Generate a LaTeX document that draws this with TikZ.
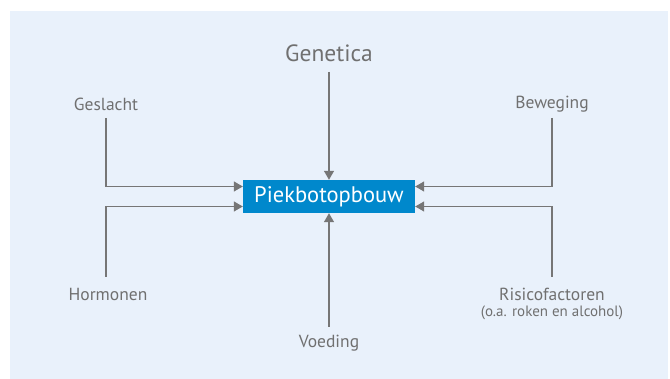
\documentclass[tikz,border=0pt]{standalone}
\usepackage{fontspec}
\setmainfont{PT Sans}
\usetikzlibrary{arrows.meta}
\definecolor{bgblue}{RGB}{233,241,251}
\definecolor{boxblue}{RGB}{0,136,204}
\definecolor{txtgray}{RGB}{112,112,112}
\definecolor{lngray}{RGB}{118,118,118}
\begin{document}
\begin{tikzpicture}[x=1pt,y=-1pt,
  lbl/.style={text=txtgray,font=\fontsize{17.5}{19}\selectfont,inner sep=0pt,anchor=center},
  conn/.style={draw=lngray,line width=1.2pt,-{Triangle[length=9pt,width=10pt]}}]
\useasboundingbox (0,0) rectangle (670,379);
\fill[bgblue] (10,11) rectangle (668,379);
\node[fill=boxblue,text=white,minimum width=172pt,minimum height=33pt,inner sep=0pt,
  font=\fontsize{22.5}{24}\selectfont] (main) at (329,196.5) {Piekbotopbouw};
\node[lbl,font=\fontsize{23.5}{25}\selectfont] (gen) at (329,53) {Genetica};
\node[lbl] (ges) at (106,104) {Geslacht};
\node[lbl] (hor) at (108,294) {Hormonen};
\node[lbl] (bew) at (552,104) {Beweging};
\node[lbl] (ris) at (552,294) {Risicofactoren};
\node[lbl,font=\fontsize{15}{16}\selectfont] (risb) at (552,313) {(o.a. roken en alcohol)};
\node[lbl] (voe) at (329,343) {Voeding};
\coordinate (gesA) at (106,118);
\coordinate (horA) at (106,277);
\coordinate (bewA) at (552,118);
\coordinate (risA) at (552,277);
\coordinate (genA) at (329,72);
\coordinate (voeA) at (329,327);
\draw[conn] (genA) -- (main.north);
\draw[conn] (voeA) -- (main.south);
\draw[conn] (gesA) |- ([yshift=10pt]main.west);
\draw[conn] (horA) |- ([yshift=-10pt]main.west);
\draw[conn] (bewA) |- ([yshift=10pt]main.east);
\draw[conn] (risA) |- ([yshift=-10pt]main.east);
\end{tikzpicture}
\end{document}
